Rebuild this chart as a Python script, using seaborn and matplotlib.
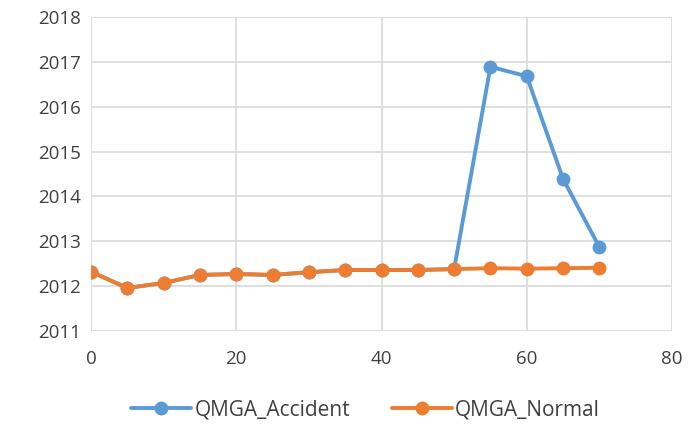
import matplotlib
matplotlib.use("Agg")
import matplotlib.pyplot as plt
import seaborn as sns
import pandas as pd

time = [0, 5, 10, 15, 20, 25, 30, 35, 40, 45, 50, 55, 60, 65, 70]
accident = [2012.32, 2011.96, 2012.07, 2012.25, 2012.27, 2012.25, 2012.31, 2012.36,
            2012.36, 2012.36, 2012.38, 2016.89, 2016.68, 2014.39, 2012.87]
normal = [2012.32, 2011.96, 2012.07, 2012.25, 2012.27, 2012.25, 2012.31, 2012.36,
          2012.36, 2012.36, 2012.38, 2012.40, 2012.39, 2012.40, 2012.41]
series_names = ["QMGA_Accident", "QMGA_Normal"]
colors = ["#5b9bd5", "#ed7d31"]

df = pd.DataFrame({
    "x": time + time,
    "y": accident + normal,
    "series": [series_names[0]] * len(time) + [series_names[1]] * len(time),
})

sns.set_theme(style="white")
plt.rcParams["font.family"] = ["Open Sans", "DejaVu Sans"]

fig = plt.figure(figsize=(6.92, 4.29), dpi=100)
ax = fig.add_axes([91 / 692, 1 - 331 / 429, (672 - 91) / 692, (331 - 17) / 429])

sns.lineplot(data=df, x="x", y="y", hue="series", palette=colors, marker="o",
             markersize=10, markeredgewidth=0, linewidth=2.8, ax=ax, legend=False)

ax.set_xlim(0, 80)
ax.set_ylim(2011, 2018)
ax.set_xticks(range(0, 81, 20))
ax.set_yticks(range(2011, 2019))
ax.grid(True, color="#d9d9d9", linewidth=1.2)
ax.set_axisbelow(True)
for s in ax.spines.values():
    s.set_visible(False)
ax.tick_params(axis="both", length=0, labelsize=13.5, colors="#404040")
ax.tick_params(axis="x", pad=14)
ax.tick_params(axis="y", pad=7)
ax.set_xlabel("")
ax.set_ylabel("")

from matplotlib.lines import Line2D
handles = [Line2D([0], [0], color=c, marker="o", markersize=10, markeredgewidth=0,
                  linewidth=2.8) for c in colors]
fig.legend(handles, series_names, loc="center", bbox_to_anchor=(0.528, 1 - 410 / 429),
           ncol=2, frameon=False, fontsize=15, handlelength=2.9, columnspacing=2.0,
           handletextpad=0.15, labelcolor="#404040")

fig.savefig("out.png", dpi=100)
